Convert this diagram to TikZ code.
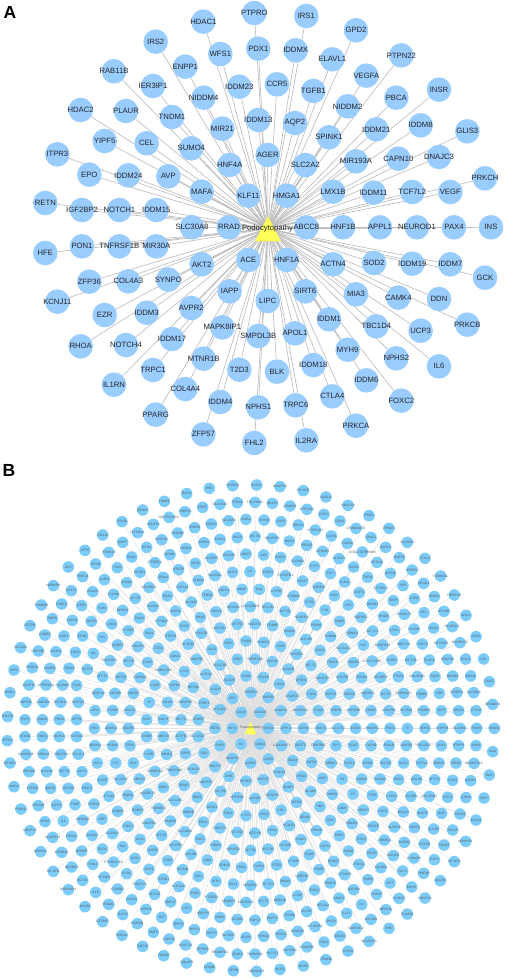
\documentclass[tikz,border=0pt]{standalone}
\usepackage{fontspec}
\setmainfont{Liberation Sans}
\usepackage{tikz}
\usetikzlibrary{backgrounds,shapes.geometric}

\definecolor{genefilla}{RGB}{153,204,255}
\definecolor{genefillb}{RGB}{124,204,250}
\definecolor{hubfill}{RGB}{255,255,90}

\tikzset{
  genea/.style={circle, fill=genefilla, minimum size=24.6pt, inner sep=0pt},
  geneb/.style={circle, fill=genefillb, minimum size=11.6pt, inner sep=0pt},
  genealab/.style={font=\fontsize{7.7}{8}\selectfont, text=black!85, inner sep=0pt},
  genEblab/.style={font=\fontsize{3.3}{4}\selectfont, text=black!65, inner sep=0pt},
  hubtri/.style={isosceles triangle, isosceles triangle apex angle=56, shape border rotate=90, isosceles triangle stretches, fill=hubfill, inner sep=0pt},
  linka/.style={draw=black!28, line width=0.6pt},
  linkb/.style={draw=black!15, line width=0.25pt},
  panel/.style={font=\bfseries\fontsize{17.5}{18}\selectfont, inner sep=0pt},
}

\newcommand{\genesA}[2]{%
  \foreach \x/\y/\g in {#2} {
    \node[genea, label={[genealab]center:\g}] (\g) at ({\x/3},{#1+\y/3}) {};
  }
  \begin{scope}[on background layer]
    \foreach \x/\y/\g in {#2} {
      \draw[linka] (hubAc) -- (\g);
    }
  \end{scope}}

\newcommand{\genesB}[4]{%
  \foreach \x/\y/\g [count=\i] in {#4} {
    \node[geneb, label={[genEblab]center:\g}] (#1\i) at ({#2+\x/3},{#3+\y/3}) {};
  }
  \begin{scope}[on background layer]
    \foreach \x/\y/\g [count=\i] in {#4} {
      \draw[linkb] (hubBc) -- (#1\i);
    }
  \end{scope}}

\begin{document}
\begin{tikzpicture}[x=1pt, y=-1pt]
  \useasboundingbox (0,0) rectangle (505,979);

  \node[panel] (panelA) at (10,12) {A};
  \node[panel] (panelB) at (9,470) {B};

  \coordinate (hubAc) at (268,228.7);
  \coordinate (hubBc) at (250.5,728);
  \node[hubtri, minimum width=26pt, minimum height=25pt] (hubA) at (268,233.4) {};
  \node[hubtri, minimum width=12pt, minimum height=12.5pt] (hubB) at (250.5,730.6) {};

  \genesA{0}{763/39/PTPRO, 610/65/HDAC1, 919/48/IRS1, 1068/91/GPD2, 467/125/IRS2, 661/162/WFS1, 775/146/PDX1,
    887/151/IDDMX, 997/178/ELAVL1, 1204/166/PTPN22, 556/200/ENPP1, 342/214/RAB11B, 459/258/IER3IP1,
    718/260/IDDM23, 831/253/CCR5, 940/273/TGFB1, 1099/227/VEGFA, 611/293/NIDDM4, 1043/319/NIDDM2,
    1189/293/PBCA, 1317/269/INSR, 242/330/HDAC2, 378/333/PLAUR, 516/351/TNDM1, 775/360/IDDM13,
    885/369/AQP2, 1129/388/IDDM21, 1262/376/IDDM8, 1402/394/GLIS3, 667/386/MIR21, 987/412/SPINK1,
    314/423/YIPF5, 440/430/CEL, 574/445/SUMO4, 803/465/AGER, 689/495/HNF4A, 916/495/SLC2A2,
    1068/484/MIR193A, 1195/476/CAPN10, 1317/471/DNAJC3, 172/463/ITPR3, 268/524/EPO, 385/526/IDDM24,
    505/529/AVP, 1455/535/PRKCH, 605/575/MAFA, 745/587/KLF11, 860/587/HMGA1, 999/575/LMX1B,
    1121/578/IDDM11, 1237/576/TCF7L2, 1351/576/VEGF, 136/609/RETN, 246/630/IGF2BP2, 358/630/NOTCH1,
    469/630/IDDM15, 576/682/SLC30A8, 687/682/RRAD, 919/682/ABCC8, 1029/682/HNF1B, 1140/682/APPL1,
    1251/682/NEUROD1, 1362/682/PAX4, 1473/682/INS}

  \genesA{225}{136/84/HFE, 246/64/PON1, 358/64/TNFRSF1B, 469/64/MIR30A, 605/118/AKT2, 745/105/ACE, 860/105/HNF1A,
    999/118/ACTN4, 1122/114/SOD2, 1237/116/IDDM19, 1351/118/IDDM7, 1455/158/GCK, 268/170/ZFP36,
    385/169/COL4A3, 505/164/SYNPO, 689/199/IAPP, 803/228/LIPC, 916/199/SIRT6, 1068/208/MIA3,
    1195/218/CAMK4, 1317/222/DDN, 172/230/KCNJ11, 314/270/EZR, 440/263/IDDM3, 574/249/AVPR2,
    987/283/IDDM1, 1129/304/TBC1D4, 1262/317/UCP3, 1402/299/PRKCB, 242/364/RHOA, 378/360/NOTCH4,
    516/342/IDDM17, 667/307/MAPK8IP1, 775/333/SMPDL3B, 885/325/APOL1, 1043/374/MYH9, 1189/400/NPHS2,
    1317/424/IL6, 342/479/IL1RN, 459/435/TRPC1, 611/401/MTNR1B, 718/434/T2D3, 831/440/BLK,
    940/420/IDDM18, 1099/466/IDDM6, 1204/527/FOXC2, 556/492/COL4A4, 997/514/CTLA4, 467/569/PPARG,
    661/531/IDDM4, 775/547/NPHS1, 887/541/TRPC6, 1068/602/PRKCA, 610/628/ZFP57, 763/654/FHL2,
    919/646/IL2RA}

  \genesB{tl}{0}{455}{560/116/DCDH, 628/100/HFE, 698/92/ADIPOQ, 493/139/FAM3B, 428/165/DDAH2, 366/200/COQ6, 308/240/COX10,
    255/286/APTX, 205/336/ACE, 160/392/HNRNPH, 124/450/TOMM20, 90/512/SFTPB, 62/578/SLC22A, 42/645/MFN,
    30/713/PINK1, 660/148/SLC25A3, 712/143/STRA6, 608/157/MPST, 555/170/PMPCB, 507/187/NDUFV3-AS1,
    460/208/NDUFS1, 413/233/MT-ND4L, 368/262/MAPT, 326/292/HOXB13, 287/327/IGF2R, 248/365/HNF1A,
    214/407/GSTT1, 185/447/FAM13, 157/491/DMPK, 135/540/COQ8B, 115/588/UHDVB7, 97/638/HNRDO,
    87/690/ACOT11, 78/742/IMPDH, 584/218/PPARG, 634/207/BARD1, 686/197/SLC26A4, 738/193/BUB1,
    660/253/KLHL3, 712/248/SHC3, 612/263/ADCK5, 533/234/HSD3B2, 485/254/NDUFA2, 440/277/MTO1,
    395/306/SKA2, 352/338/KIAA, 313/374/IL1RN, 278/410/HDAC2, 245/452/GPS2, 217/496/FARS2,
    192/543/KSR1, 168/590/COX41, 150/640/OXSR1, 138/690/ATP6V0A4, 130/742/ADGRG4, 510/299/GRIN1,
    558/280/HYOU1, 586/325/SCO2, 635/310/SLC35F1, 686/302/TBC1D8, 738/297/UBE2T, 750/350/CS,
    698/352/GLDH, 645/362/SLC25A1, 595/376/ALDOA, 536/344/HTATIP, 465/323/PTGER4, 420/352/EIF2B1,
    380/383/COX6C, 341/418/CLCN6, 306/459/SDM, 274/499/AGTR1, 248/543/DPM2, 226/592/TGDS,
    207/640/TIGD2, 188/690/SLC34A1, 182/742/DCHS1A, 490/367/DRAL1, 447/397/NDUFAF4, 547/396/UGT1A1,
    622/420/TFB1M, 672/408/UQCC2, 726/403/IMMP, 406/430/MT-TE, 368/466/MPHS2, 335/507/LARS2,
    307/547/ISG, 280/595/ILK, 262/643/GSTP1, 230/691/FXL6, 235/742/IDOTD1, 459/455/SLC6A1,
    502/423/EDA2, 574/441/SLC9A2, 527/468/SATB1, 418/489/SDHD, 485/499/PTPN22, 553/513/EVOT,
    601/487/HBA2, 648/470/CDKN3, 700/457/HCN2A1, 385/527/PTGER, 447/535/PAX4, 512/543/ETFDH,
    604/535/LOC100, 660/519/MT-CO1, 712/508/MT-TS2, 353/570/GABRT, 414/575/NDUFB3, 475/580/CTRL,
    565/568/KCNJ16, 636/584/GAS1, 686/566/HBE1, 738/558/TSSK6, 525/603/COX11, 590/613/PAMT96,
    330/617/NDUFAF1, 386/620/MT-TW, 443/622/COX2, 491/645/HNBLCOX, 553/650/CYC1, 660/630/SLC17A5,
    712/613/SRI2, 308/665/MT-TK, 363/667/MSTO1, 420/668/CAPN10, 465/690/CARS, 523/692/COPB2,
    618/658/ACOX1, 688/675/ACADS, 738/663/APOB, 580/697/RETN1, 646/703/VLDLR, 295/715/MRPL44,
    345/715/LOC100, 400/715/AMPD1, 448/742/PI, 503/742/CD151, 556/743/NDUFS6, 612/745/THOP1,
    698/730/IRF2, 285/767/LIPA, 338/766/CTRB3, 390/767/ABCG1, 660/763/SLC22A1,
    724/772/COX4I}

  \genesB{bl}{0}{719}{75/2/TSIT1, 127/2/FAM32, 178/2/PRKN, 230/2/OPTN, 440/2/GSR, 490/2/DGCR, 543/2/MT-T2, 595/2/SPARP,
    23/-7/HSLFBI, 283/28/IRS1, 333/28/IDDM19, 385/28/UQCR9, 645/28/RETN, 697/28/HEY2, 22/65/IFFO2,
    75/53/STX3B, 127/53/TSNK1, 178/53/NUP41, 230/53/SLC5A4, 440/53/COG6, 490/53/ABCC9, 543/53/ATP7B,
    595/53/SLC25A7, 285/80/IDDM13, 338/80/HSD4A, 390/80/TFRC, 660/80/PHEX, 723/75/IGI, 78/106/NLGN3A4,
    130/105/SOBO4, 183/106/NDUFB4, 235/106/RCL2L1, 447/106/CASR, 500/106/UBN1G, 556/104/LRP4,
    612/102/RDX, 698/118/NDUFS6, 752/132/DARS2, 30/132/MT-ND1, 292/132/HV-1, 347/132/FTL, 400/132/SLK,
    465/157/ANKRD12, 522/155/TMEM38B, 581/150/KCNJ13, 645/143/PNKT47, 87/158/RNF220, 140/158/SLC2A2,
    193/158/MT-TA, 246/158/AKT2, 308/183/GSPE, 362/182/SLC12A3, 418/180/ABCG2, 687/172/MYB,
    738/186/MTHFR, 618/190/NDUFS5, 42/203/MAFA, 98/208/HTRA6, 152/208/MIRS1, 205/208/ZNF76B,
    261/207/FOXL2, 327/232/CTLA4, 384/229/RAB5A, 443/225/UQCRFS1, 490/205/IKBIS, 552/199/IDDM7,
    662/217/MT-TM, 712/235/MTHFD2, 63/270/PRKN2, 115/260/POLM3, 170/258/ALFY1, 225/257/TYMP,
    282/255/EPRS2, 353/277/CAMK8, 413/273/ROBO1, 476/268/TMEM251, 525/245/SLC12A6, 592/235/HBG1,
    636/264/GATA1, 685/282/FAH1, 738/290/CYCS, 135/308/MFN3, 190/306/IL6, 248/303/YWHAQ2, 306/300/CRP,
    384/322/CSMT3, 447/314/NDUFB8, 511/306/SMAD3, 565/280/RBM4B, 610/309/PDX1, 660/327/NDUFS2,
    712/340/MT-TS2, 90/335/NDUFS2, 158/355/NDUFA13, 215/352/HTRA2, 276/349/SLC6A4, 337/344/CLDN19,
    420/361/ALX1, 485/349/MT-TR, 555/338/SLC10A4, 600/360/RAC1, 122/398/NDUFA1, 185/400/MTNR1A,
    245/396/GRHPR, 307/390/SCO1, 368/383/BLK, 458/394/UNC80, 527/380/MT-ATP6, 648/380/PDBB1,
    700/391/NDUFS3, 752/394/MT-TB, 160/457/MT-ND4, 215/444/NDUBO1, 278/436/FBXL4, 341/429/PTCHD1-AS,
    405/418/ALG1, 503/425/TFAM, 573/406/LOC100, 622/423/JAK2, 674/438/DDM21, 725/445/HBA1,
    248/484/KCTD1, 313/474/GFZAK1, 380/464/DCRL, 447/451/GCP2, 548/452/SLC6A1, 595/472/SHH,
    648/487/IPTH, 700/495/PAX2, 752/499/NDUFB11, 205/512/MAPK8IP1, 287/520/IL1R, 353/510/COX6B1,
    420/497/NDUFV1, 490/480/TCIRG1, 537/503/SLC52A1, 585/522/SDHC, 635/536/PTGES4, 687/547/UBQBP1,
    738/550/NDUFAF4, 255/563/KCNJ8, 326/556/HOGA1, 395/542/CLDN4, 464/526/MT-CB, 512/549/MPV17,
    560/568/LAP3, 610/584/IMPPS5, 660/595/HAR2, 712/601/GSTM1, 308/608/GFZBP2, 368/587/GLIS3,
    438/571/ASPH3, 485/595/AGT, 535/615/ZPPR2, 583/632/PAPVS, 635/642/EDTTS, 686/650/SLC6M7,
    738/655/BCKK, 412/614/RAB3IB, 366/649/HMGA1, 460/640/SMF2, 507/660/COX7B, 557/678/HCM71A,
    608/690/ATP5B0, 660/700/HSAMPS4, 712/705/SRSK4, 428/682/GDF15, 491/710/FAM3B, 560/732/GQLIOR,
    629/746/COQ8A, 700/755/OPTIN}

  \genesB{tr}{245}{470}{35/45/KCNJ1, 105/50/MAGED1, 175/62/MT-ND3, 243/81/NASLU, 309/106/NDUFS8, 372/137/PKD2, 432/175/RPAD3,
    487/217/SLC26A1, 540/265/STK24, 587/318/TOMM20L, 628/375/HRSBVD, 663/436/ACO1, 693/500/AGP2,
    716/567/CEL, 733/635/COG7, 743/703/DENND4A, 30/97/TNL-HAD2, 82/100/BRAF3, 135/108/ADAM51,
    186/118/HTPT2A3, 237/133/CHIT1, 285/153/COX6, 333/175/CHAMADD3, 378/202/FAAC1, 422/232/GGYP1,
    463/263/HNF1B, 501/300/IGFBP3, 536/340/KCNG1, 568/380/IMAG5, 597/424/MT-ND5, 622/470/NDUFA11,
    645/518/NDUROS1, 662/567/POLG, 677/618/BRAG, 686/668/SLC39A4, 57/150/TAFNB, 108/155/KAPS,
    160/165/ADH7A, 211/180/HTPBV1H, 259/198/CLCN1, 307/220/COX5A, 352/246/COG1-SERPINB3, 396/277/HSTK20,
    436/310/GPR22, 474/347/HPD, 508/386/IL2RA, 537/428/PLL, 566/474/SKA3, 589/520/MT-RNR1,
    608/568/NDUFA6, 623/618/NDDM9, 636/668/HFMPOL, 30/200/MT-TD, 82/205/NDUFAF1, 133/213/NRG3,
    185/226/PRDCR, 233/244/KCNK09, 282/266/SLC5C1, 326/291/TACO1, 368/322/TSFM, 408/355/ZFYVE21,
    445/392/WISP, 478/433/HADHLT1, 507/477/CLCN6, 532/522/COX7C, 553/570/ELAC2, 570/620/FQO1,
    583/670/LBR, 56/255/ALB, 107/262/BOE5L, 158/273/CLCNKA, 208/289/CPT2, 256/311/EPO,
    299/336/FLAD1, 343/368/GSTT1, 382/402/GGDB1, 416/440/HNDB, 449/481/LCN1, 476/522/MRPL54,
    497/570/MT-T3A, 517/620/NDUFAB1, 530/672/DIEBR, 69/307/EXOC7, 121/317/FOXRED1,
    173/333/H2AC7, 221/352/IDDM19, 268/377/INS3, 310/405/LIPC, 348/442/MAP6S2, 383/483/MT-TL1,
    413/525/NDUFB10, 441/570/PARN7, 460/620/PTGS1, 476/670/SERPINC1, 43/358/CA2, 95/365/CHTR2,
    146/378/CITMAM, 194/397/ETFA, 240/420/FYN, 284/454/HAMP, 322/489/KDM1A, 355/525/IVD,
    382/573/LOC727085, 407/622/MT-ATP6, 422/672/MT-T5, 16/410/LOC100509, 69/413/MT-CO1, 120/424/MT-TQ,
    170/442/NDUFB4, 214/465/PDHA1, 257/500/RAB8A, 295/535/SLC32A2, 325/578/SMAD3, 350/623/TGFB1,
    368/672/UQCRC1, 30/462/NDUFS1, 83/467/PDBB3, 134/485/RARS2, 183/508/SLC7A5, 225/541/SNCA,
    263/578/TMCO5, 292/623/UQCRQ, 313/672/RECCK, 56/517/KCNJ10, 107/529/LRP2,
    155/553/MTSDR1, 82/575/VEGFA, 30/567/TMPRSS6, 130/597/ACADM, 198/586/MT-T1, 170/630/MTB01,
    103/642/COG4, 55/622/COCK3, 232/625/NDUFS3, 18/668/TMPRSS, 70/683/WARS2,
    142/678/DAUROS, 200/672/CD59, 257/672/RST1B, 45/728/KCNJ18, 108/722/ACADVL, 166/722/HAAT2G2,
    220/722/COQ3, 273/722/ISBP8, 326/722/ANKS6B, 378/722/AKR3F, 432/722/NDUFB6, 484/722/SLC8A1,
    536/722/HTQDB3, 589/722/IAPP, 641/722/SARS2, 693/722/STX10}

  \genesB{br}{245}{719}{70/28/RHOXL, 123/28/APPL1, 175/28/GATM, 228/28/DACT1, 280/28/SLC17A7, 332/28/COR3, 382/28/HSAPC1,
    435/28/PBCA, 487/28/TF, 540/28/SDHA, 592/28/INPP5B, 645/28/SLC38A1, 695/28/TRMT3, 748/28/HNKD2,
    45/75/FANCA, 110/80/COX20AP1, 166/80/HEST5, 220/80/FBXF3B9, 273/80/SP1, 326/80/COG7, 378/80/CAPN9,
    432/80/PVALB, 484/80/LMOD3, 536/80/SLC22A2, 589/80/KLK4, 641/80/BTNPR, 693/80/BRK3, 743/98/GOX,
    70/120/COG5, 143/125/IDD93, 200/130/GATA2, 258/132/TMEM71, 313/132/CXCL8, 368/132/COG8,
    422/132/SLC7D, 476/132/ALG2, 530/132/TOTTL2, 582/132/BBOX2, 633/132/FBPAT, 687/133/ADAMTS13,
    103/160/KCNJ18, 55/182/BHCOT, 170/172/HBG2, 232/178/HDR, 291/180/FN, 350/180/DUBIN, 405/180/SLC6A3,
    461/182/BBS2, 515/182/GBLAK, 569/182/MT-TG, 623/184/SYKO, 677/185/KDFM7, 733/168/RUX, 130/204/IDDMY,
    197/217/ACAD9, 262/226/DAMS1, 324/225/F2, 382/229/TFR2, 440/232/CLTSN, 498/232/ALDOB, 553/232/NDUFAR3,
    608/235/HOY1, 663/236/CHKA, 717/237/IGFY, 30/238/LARGE, 82/228/KCNJY6, 155/250/MT351, 225/263/HBD,
    293/268/GBP2, 355/273/HDOPY, 414/277/CSTS, 475/279/BGLAP, 532/282/NLRP3, 590/283/IKVP, 645/285/COX16,
    693/303/KCNJ4, 108/273/CDK, 57/286/COQ2, 180/295/IDDM4, 256/304/HSB, 321/314/NBCB1, 385/322/ERCC8,
    448/324/GLDN18, 508/326/FBXO9, 566/330/CLCN3, 623/333/SNAJ3, 83/335/LRBA, 30/342/MT-CYB, 133/320/KCNJ11,
    215/335/IDDM34, 283/350/KWIS, 349/360/IFSX1, 418/363/LRRB5A, 478/370/SCHNI5, 538/375/COX5B,
    597/378/RAN53, 662/367/MSMYB1, 168/362/KCNJY, 120/380/LOC100, 240/381/CASS1, 311/396/HADH, 381/403/EPOR,
    445/410/SLCAR1, 507/417/CHKADH, 568/422/GJP1, 628/428/MT-ND3, 69/390/MT-CO2, 193/407/COA3, 266/427/DDM17,
    342/436/FOXC2, 408/446/TALDO1, 473/456/FXIT1, 536/463/HNF4B, 586/485/NCOR1, 42/443/FXYD2, 95/438/ETFB,
    146/427/CTNIB, 222/452/ITGB1, 299/467/DTYMP1, 369/482/TMEM, 435/492/GPT, 500/504/KDHO, 540/537/NDUFV1,
    172/473/LMBRD1, 121/488/BMMP, 70/495/MT-TL2, 256/492/DDM71, 326/512/ZNF460, 395/526/HSPA5, 462/538/KCNG2,
    487/585/PLA2G6, 208/513/IRES2, 158/530/LCN2, 105/543/MRPLIB, 56/547/MT-T1, 282/537/AKAP4, 350/557/IL3,
    423/572/MED13L, 234/560/BCL11A, 185/578/CLCN7, 133/590/COX8A, 82/598/ENPP1, 305/583/KLF1, 378/601/MT-ND6,
    432/628/RHD, 30/603/PGP23, 259/606/MYOX, 210/623/MT-RNR2, 158/637/NDUFA9, 108/647/NRG2A, 56/652/PRKG2,
    333/628/NDUFAC2, 372/667/SLC25A51, 285/651/NEUSN, 237/669/PGK1, 186/684/KRAS2B, 134/695/SLC39A4,
    82/703/SLC7L1, 30/705/TMEM35A, 309/696/STK33, 243/722/TRIM38, 175/741/MDR9, 105/751/ACO2, 35/757/ARHGAP1}

  \node[genealab] (hubAlabel) at (267.5,228.7) {Podocytopathy};
  \node[genEblab] (hubBlabel) at (251,727.5) {Podocytopathy};
\end{tikzpicture}
\end{document}
